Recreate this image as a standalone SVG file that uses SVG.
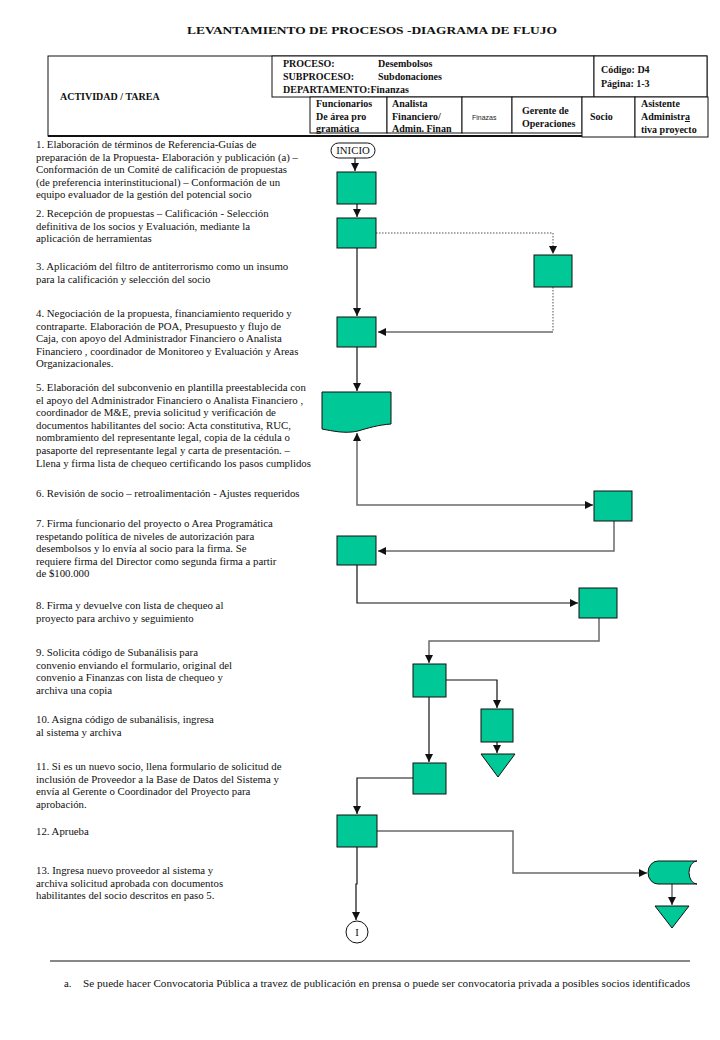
<svg xmlns="http://www.w3.org/2000/svg" width="720" height="1040" viewBox="0 0 720 1040">
<defs>
<marker id="ah" markerUnits="userSpaceOnUse" markerWidth="9" markerHeight="9" refX="8" refY="4" orient="auto-start-reverse">
<path d="M0,0 L8,4 L0,8 Z" fill="#111"/>
</marker>
<style>
.t{font-family:"Liberation Serif","Times New Roman",serif;font-size:10.8px;fill:#111}
.h{font-family:"Liberation Serif","Times New Roman",serif;font-size:10px;font-weight:bold;fill:#111}
.sm{font-family:"Liberation Sans",Arial,sans-serif;font-size:7px;fill:#222}
.box{fill:#00C896;stroke:#111;stroke-width:1}
.cell{fill:#fff;stroke:#111;stroke-width:1}
.c{fill:none;stroke:#111;stroke-width:1.2}
.g{fill:none;stroke:#6a6a6a;stroke-width:1.5}
.d{fill:none;stroke:#555;stroke-width:1;stroke-dasharray:1.5 1.5}
</style>
</defs>
<rect width="720" height="1040" fill="#fff"/>

<g id="title">
<text class="h" x="372" y="34" text-anchor="middle" font-size="12.5" textLength="370" lengthAdjust="spacingAndGlyphs">LEVANTAMIENTO  DE  PROCESOS  -DIAGRAMA  DE  FLUJO</text>
</g>

<g id="header">
<rect class="cell" x="48" y="56" width="659" height="80"/>
<rect class="cell" x="272" y="56" width="322" height="41"/>
<rect class="cell" x="594" y="56" width="113" height="41"/>
<rect class="cell" x="310" y="97" width="77" height="36"/>
<rect class="cell" x="387" y="97" width="75" height="36"/>
<rect class="cell" x="462" y="97" width="50" height="36"/>
<rect class="cell" x="512" y="97" width="70" height="36"/>
<rect class="cell" x="582" y="97" width="53" height="40"/>
<rect class="cell" x="635" y="97" width="73" height="40"/>
<line x1="48" y1="136" x2="582" y2="136" stroke="#111" stroke-width="2"/>
<text class="h" x="60" y="100">ACTIVIDAD / TAREA</text>
<text class="h" x="283" y="67">PROCESO:</text>
<text class="h" x="378" y="67">Desembolsos</text>
<text class="h" x="283" y="80">SUBPROCESO:</text>
<text class="h" x="378" y="80">Subdonaciones</text>
<text class="h" x="283" y="93">DEPARTAMENTO:Finanzas</text>
<text class="h" x="601" y="73">Código: D4</text>
<text class="h" x="601" y="87">Página: 1-3</text>
<text class="h" x="316" y="107">Funcionarios</text>
<text class="h" x="316" y="120">De área pro</text>
<text class="h" x="316" y="132">gramática</text>
<text class="h" x="392" y="107">Analista</text>
<text class="h" x="392" y="120">Financiero/</text>
<text class="h" x="392" y="132">Admin. Finan</text>
<text class="sm" x="472" y="120">Finazas</text>
<text class="h" x="522" y="114">Gerente de</text>
<text class="h" x="522" y="127">Operaciones</text>
<text class="h" x="590" y="120">Socio</text>
<text class="h" x="641" y="107">Asistente</text>
<text class="h" x="641" y="120">Administr<tspan text-decoration="underline">a</tspan></text>
<text class="h" x="641" y="133">tiva proyecto</text>
</g>

<g id="activities">
<text class="t" x="36" y="148">1. Elaboración de términos de Referencia-Guías de</text>
<text class="t" x="36" y="160.6">preparación de la Propuesta- Elaboración y publicación (a) –</text>
<text class="t" x="36" y="173.2">Conformación de un Comité de calificación de propuestas</text>
<text class="t" x="36" y="185.8">(de preferencia interinstitucional) – Conformación de un</text>
<text class="t" x="36" y="198.4">equipo evaluador de la gestión del potencial socio</text>
<text class="t" x="36" y="217">2. Recepción de propuestas – Calificación - Selección</text>
<text class="t" x="36" y="229.6">definitiva de los socios y Evaluación, mediante la</text>
<text class="t" x="36" y="242.2">aplicación de herramientas</text>
<text class="t" x="36" y="270">3. Aplicacióm del filtro de antiterrorismo como un insumo</text>
<text class="t" x="36" y="282.6">para la calificación y selección del socio</text>
<text class="t" x="36" y="317">4. Negociación de la propuesta,   financiamiento requerido y</text>
<text class="t" x="36" y="329.6">contraparte.  Elaboración de POA, Presupuesto y flujo de</text>
<text class="t" x="36" y="342.2">Caja, con apoyo del Administrador Financiero o Analista</text>
<text class="t" x="36" y="354.8">Financiero , coordinador de Monitoreo y Evaluación y Areas</text>
<text class="t" x="36" y="367.4">Organizacionales.</text>
<text class="t" x="36" y="391">5. Elaboración del  subconvenio en plantilla preestablecida con</text>
<text class="t" x="36" y="403.6">el apoyo del Administrador Financiero o Analista Financiero ,</text>
<text class="t" x="36" y="416.2">coordinador de M&amp;E, previa solicitud y verificación de</text>
<text class="t" x="36" y="428.8">documentos habilitantes del socio:  Acta constitutiva, RUC,</text>
<text class="t" x="36" y="441.4">nombramiento del representante legal, copia de la cédula o</text>
<text class="t" x="36" y="454">pasaporte del representante legal y carta de presentación. –</text>
<text class="t" x="36" y="466.6">Llena y firma  lista de chequeo certificando los pasos cumplidos</text>
<text class="t" x="36" y="497">6. Revisión de socio – retroalimentación - Ajustes requeridos</text>
<text class="t" x="36" y="527">7. Firma funcionario del proyecto o Area Programática</text>
<text class="t" x="36" y="539.6">respetando política de  niveles de autorización para</text>
<text class="t" x="36" y="552.2">desembolsos y lo envía al socio para la firma. Se</text>
<text class="t" x="36" y="564.8">requiere firma del Director como segunda firma a partir</text>
<text class="t" x="36" y="577.4">de $100.000</text>
<text class="t" x="36" y="609">8. Firma y devuelve con lista de chequeo al</text>
<text class="t" x="36" y="621.6">proyecto para archivo y seguimiento</text>
<text class="t" x="36" y="656">9. Solicita código de Subanálisis para</text>
<text class="t" x="36" y="668.6">convenio enviando el formulario, original del</text>
<text class="t" x="36" y="681.2">convenio a Finanzas con lista de chequeo y</text>
<text class="t" x="36" y="693.8">archiva una copia</text>
<text class="t" x="36" y="723">10. Asigna código de subanálisis, ingresa</text>
<text class="t" x="36" y="735.6">al sistema y archiva</text>
<text class="t" x="36" y="770">11. Si es un nuevo socio, llena formulario de solicitud de</text>
<text class="t" x="36" y="782.6">inclusión de Proveedor a la Base de Datos del Sistema y</text>
<text class="t" x="36" y="795.2">envía al Gerente o Coordinador del Proyecto para</text>
<text class="t" x="36" y="807.8">aprobación.</text>
<text class="t" x="36" y="835">12. Aprueba</text>
<text class="t" x="36" y="874">13. Ingresa nuevo proveedor al sistema y</text>
<text class="t" x="36" y="886.6">archiva solicitud aprobada con documentos</text>
<text class="t" x="36" y="899.2">habilitantes del socio descritos en paso 5.</text>
</g>

<g id="connectors">
<path class="c" d="M355,158 V171" marker-end="url(#ah)"/>
<path class="c" d="M357,204 V217" marker-end="url(#ah)"/>
<path class="d" d="M376,233 H553 V254" marker-end="url(#ah)"/>
<path class="d" d="M553,287 V332"/>
<path class="g" d="M553,332 H378" marker-end="url(#ah)"/>
<path class="c" d="M357,248 V316" marker-end="url(#ah)"/>
<path class="c" d="M357,347 V391" marker-end="url(#ah)"/>
<path class="g" d="M357,433 V505 H593" marker-start="url(#ah)" marker-end="url(#ah)"/>
<path class="g" d="M614,520 V551 H378" marker-end="url(#ah)"/>
<path class="c" d="M357,565 V603 H578" marker-end="url(#ah)"/>
<path class="g" d="M599,618 V641 H429 V663" marker-end="url(#ah)"/>
<path class="c" d="M446,680 H497 V708" marker-end="url(#ah)"/>
<path class="c" d="M497,742 V753" marker-end="url(#ah)"/>
<path class="c" d="M429,697 V762" marker-end="url(#ah)"/>
<path class="c" d="M413,778 H357 V814" marker-end="url(#ah)"/>
<path class="g" d="M377,831 H513 V873 H647" marker-end="url(#ah)"/>
<path class="g" d="M672,884 V905" marker-end="url(#ah)"/>
<path class="c" d="M357,847 V884 H356 V920" marker-end="url(#ah)"/>
</g>

<g id="inicio">
<rect x="331" y="143" width="44" height="15" rx="7.5" fill="#fff" stroke="#111"/>
<text class="t" x="353" y="154" text-anchor="middle" font-size="10">INICIO</text>
</g>
<g id="n1"><rect class="box" x="337" y="172" width="39" height="32"/></g>
<g id="n2"><rect class="box" x="337" y="218" width="39" height="30"/></g>
<g id="n3"><rect class="box" x="534" y="255" width="38" height="32"/></g>
<g id="n4"><rect class="box" x="337" y="317" width="39" height="30"/></g>
<g id="n5"><path class="box" d="M322,392 H391 V424 C378,425 368,428 358,431 C345,434 333,431 322,429 Z"/></g>
<g id="n6"><rect class="box" x="594" y="491" width="38" height="30"/></g>
<g id="n7"><rect class="box" x="337" y="536" width="39" height="29"/></g>
<g id="n8"><rect class="box" x="579" y="588" width="38" height="30"/></g>
<g id="n9"><rect class="box" x="413" y="664" width="33" height="33"/></g>
<g id="n10"><rect class="box" x="481" y="709" width="32" height="33"/></g>
<g id="n10t"><polygon class="box" points="481,754 515,754 498,777"/></g>
<g id="n11"><rect class="box" x="413" y="763" width="33" height="31"/></g>
<g id="n12"><rect class="box" x="337" y="815" width="40" height="32"/></g>
<g id="n13"><path class="box" d="M658,861 H697 A8,11.5 0 0,0 697,884 H658 A10,11.5 0 0,1 658,861 Z"/></g>
<g id="n13t"><polygon class="box" points="655,906 689,906 672,928"/></g>
<g id="fin">
<circle cx="357" cy="932" r="11" fill="#fff" stroke="#111"/>
<text class="t" x="357" y="935.5" text-anchor="middle" font-size="10">I</text>
</g>

<g id="footer">
<line x1="50" y1="961" x2="690" y2="961" stroke="#111" stroke-width="1"/>
<text class="t" x="64" y="987" font-size="9">a.</text>
<text class="t" x="83" y="987" font-size="9.5" textLength="607" lengthAdjust="spacingAndGlyphs">Se puede hacer Convocatoria Pública a travez de publicación en prensa o puede ser convocatoria privada a posibles socios identificados</text>
</g>
</svg>
